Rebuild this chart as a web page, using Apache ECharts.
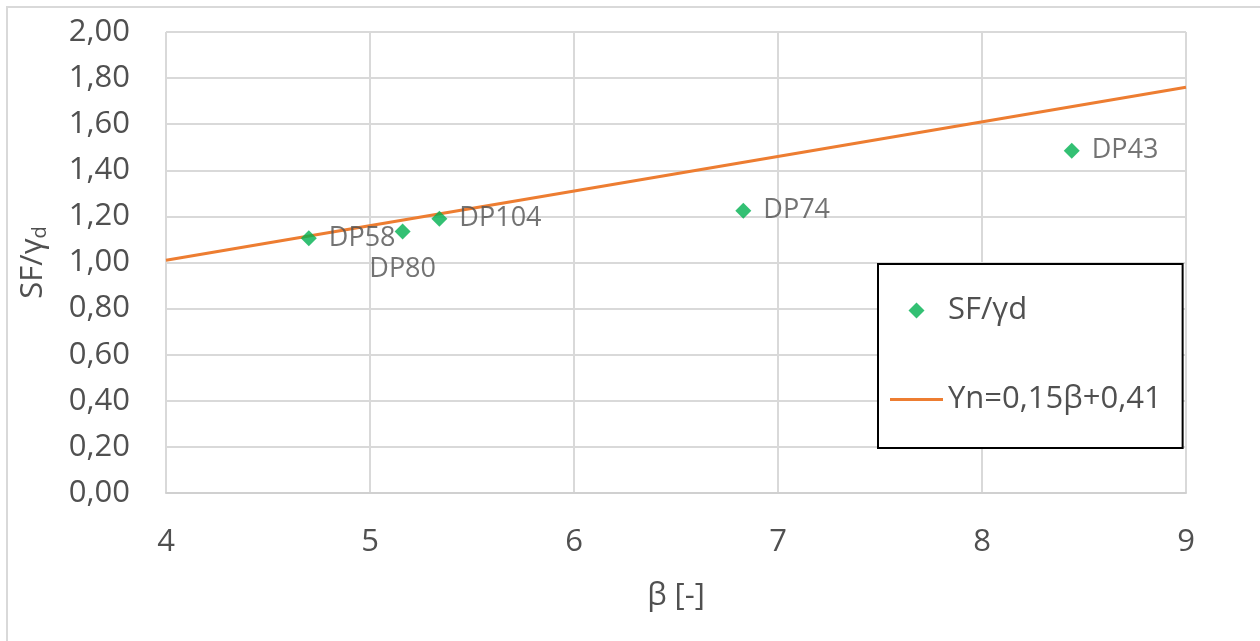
<!DOCTYPE html>
<html><head><meta charset="utf-8">
<script src="https://cdn.jsdelivr.net/npm/echarts@6/dist/echarts.min.js"></script>
<style>html,body{margin:0;padding:0;background:#fff}#c{width:1260px;height:641px}</style>
</head><body><div id="c"></div>
<script>
const pointNames = ['DP58', 'DP80', 'DP104', 'DP74', 'DP43'];
const pointBeta = [4.70, 5.16, 5.34, 6.83, 8.44];
const pointSF = [1.105, 1.135, 1.19, 1.225, 1.485];
const fitBeta = [4, 9];
const fitY = [1.01, 1.76];
const scatterName = 'SF/γd';
const lineName = 'Yn=0,15β+0,41';

const FONT = 'Open Sans';
const TXT = '#505050';
const chart = echarts.init(document.getElementById('c'));
const scatterData = pointNames.map((n, i) => ({
  name: n, value: [pointBeta[i], pointSF[i]],
  label: n === 'DP80' ? { position: 'bottom', distance: 16 } : undefined
}));
chart.setOption({
  animation: false,
  textStyle: { fontFamily: FONT },
  graphic: [{ type: 'rect', shape: { x: 7, y: 7, width: 1300, height: 700 }, style: { fill: null, stroke: '#d9d9d9', lineWidth: 2 }, z: -10 }],
  grid: { left: 166, right: 74, top: 32, bottom: 148 },
  xAxis: {
    type: 'value', min: 4, max: 9, interval: 1,
    name: 'β [-]', nameLocation: 'middle', nameGap: 88,
    nameTextStyle: { fontSize: 31, color: TXT, fontFamily: FONT },
    axisLine: { show: true, lineStyle: { color: '#d0d0d0', width: 2 } },
    axisTick: { show: false },
    splitLine: { show: true, lineStyle: { color: '#d9d9d9', width: 2 } },
    axisLabel: { fontSize: 31, color: TXT, margin: 34, fontFamily: FONT }
  },
  yAxis: {
    type: 'value', min: 0, max: 2, interval: 0.2,
    name: '{a|SF/γ}{b|d}', nameLocation: 'middle', nameGap: 116, nameRotate: 90,
    nameTextStyle: { color: TXT, rich: { a: { fontSize: 31, color: TXT, fontFamily: FONT }, b: { fontSize: 20, color: TXT, fontFamily: FONT, padding: [14, 0, 0, 0] } } },
    axisLine: { show: false },
    axisTick: { show: false },
    splitLine: { show: true, lineStyle: { color: '#d9d9d9', width: 2 } },
    axisLabel: { fontSize: 31, color: TXT, margin: 36, fontFamily: FONT, formatter: v => v.toFixed(2).replace('.', ',') }
  },
  legend: {
    orient: 'vertical', left: 878, top: 264,
    backgroundColor: '#fff', borderColor: '#000', borderWidth: 2,
    padding: [31, 21, 33, 12], itemGap: 58, itemWidth: 53, itemHeight: 16,
    symbolKeepAspect: true,
    textStyle: { fontSize: 31, color: TXT, fontFamily: FONT },
    data: [
      { name: scatterName, icon: 'path://M7,0 L14,7 L7,14 L0,7 Z' },
      { name: lineName, icon: 'path://M0,0 L53,0 L53,3 L0,3 Z' }
    ]
  },
  series: [
    {
      name: lineName, type: 'line', data: fitBeta.map((b, i) => [b, fitY[i]]),
      symbol: 'none', lineStyle: { color: '#ed7d31', width: 3 }, itemStyle: { color: '#ed7d31' }, z: 2
    },
    {
      name: scatterName, type: 'scatter', data: scatterData, symbol: 'diamond', symbolSize: 16,
      itemStyle: { color: '#00b050' }, z: 3,
      label: { show: true, position: 'right', distance: 12, formatter: p => p.name, fontSize: 27, color: TXT, fontFamily: FONT }
    }
  ]
});
</script></body></html>
